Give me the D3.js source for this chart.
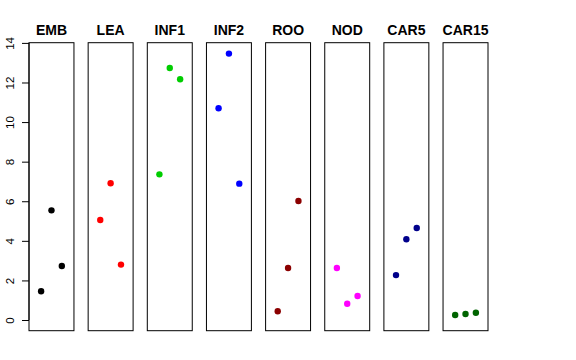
<!DOCTYPE html>
<html>
<head>
<meta charset="utf-8">
<script src="https://cdn.jsdelivr.net/npm/d3@7"></script>
<style>
  body { margin: 0; background: #fff; }
  svg { display: block; font-family: "Liberation Sans", Arial, sans-serif; }
</style>
</head>
<body>
<svg width="576" height="360"></svg>
<script>
var categories = ["EMB", "LEA", "INF1", "INF2", "ROO", "NOD", "CAR5", "CAR15"];
var colours = ["#000000", "#ff0000", "#00cd00", "#0000ff", "#8b0000", "#ff00ff", "#00008b", "#006400"];
var replicates = [1, 2, 3];
var rep1 = [1.45, 5.05, 7.36, 10.7, 0.44, 2.63, 2.27, 0.25];
var rep2 = [5.54, 6.91, 12.73, 13.46, 2.63, 0.82, 4.08, 0.30];
var rep3 = [2.73, 2.80, 12.16, 6.89, 6.01, 1.21, 4.65, 0.37];
var yTicks = [0, 2, 4, 6, 8, 10, 12, 14];

var svg = d3.select("svg");

var panel = d3.scaleBand()
  .domain(categories)
  .range([29, 488])
  .paddingInner(0.24)
  .paddingOuter(0);

var y = d3.scaleLinear()
  .domain([-0.54, 14.01])
  .range([330.7, 42.7]);

var x = d3.scaleLinear()
  .domain([-0.17, 4.17])
  .range([0, panel.bandwidth()]);

// y axis on the left of the first panel
var yAxis = d3.axisLeft(y)
  .tickValues(yTicks)
  .tickSize(7)
  .tickPadding(4)
  .tickSizeOuter(0);

var axisG = svg.append("g")
  .attr("transform", "translate(" + panel(categories[0]) + ",0)")
  .call(yAxis);
axisG.select(".domain")
  .attr("d", "M0," + y(0) + "V" + y(14))
  .attr("stroke", "#000");
axisG.selectAll(".tick line").attr("stroke", "#000");
axisG.selectAll(".tick text")
  .attr("font-size", 11.5)
  .attr("fill", "#000")
  .attr("text-anchor", "middle")
  .attr("x", null)
  .attr("dy", null)
  .attr("transform", "translate(-15,0) rotate(-90)");

var rows = categories.map(function(c, i) {
  return {
    cat: c,
    colour: colours[i],
    values: [rep1[i], rep2[i], rep3[i]]
  };
});

var panels = svg.selectAll("g.panel")
  .data(rows)
  .enter().append("g")
  .attr("class", "panel")
  .attr("transform", function(d) { return "translate(" + panel(d.cat) + ",0)"; });

panels.append("rect")
  .attr("x", 0)
  .attr("y", y.range()[1])
  .attr("width", panel.bandwidth())
  .attr("height", y.range()[0] - y.range()[1])
  .attr("fill", "none")
  .attr("stroke", "#000")
  .attr("stroke-width", 1);

panels.append("text")
  .attr("x", panel.bandwidth() / 2)
  .attr("y", 34.5)
  .attr("text-anchor", "middle")
  .attr("font-size", 14)
  .attr("font-weight", "bold")
  .text(function(d) { return d.cat; });

panels.selectAll("circle")
  .data(function(d) {
    return d.values.map(function(v, j) {
      return { rep: replicates[j], value: v, colour: d.colour };
    });
  })
  .enter().append("circle")
  .attr("cx", function(d) { return x(d.rep); })
  .attr("cy", function(d) { return y(d.value); })
  .attr("r", 3.2)
  .attr("fill", function(d) { return d.colour; });
</script>
</body>
</html>
